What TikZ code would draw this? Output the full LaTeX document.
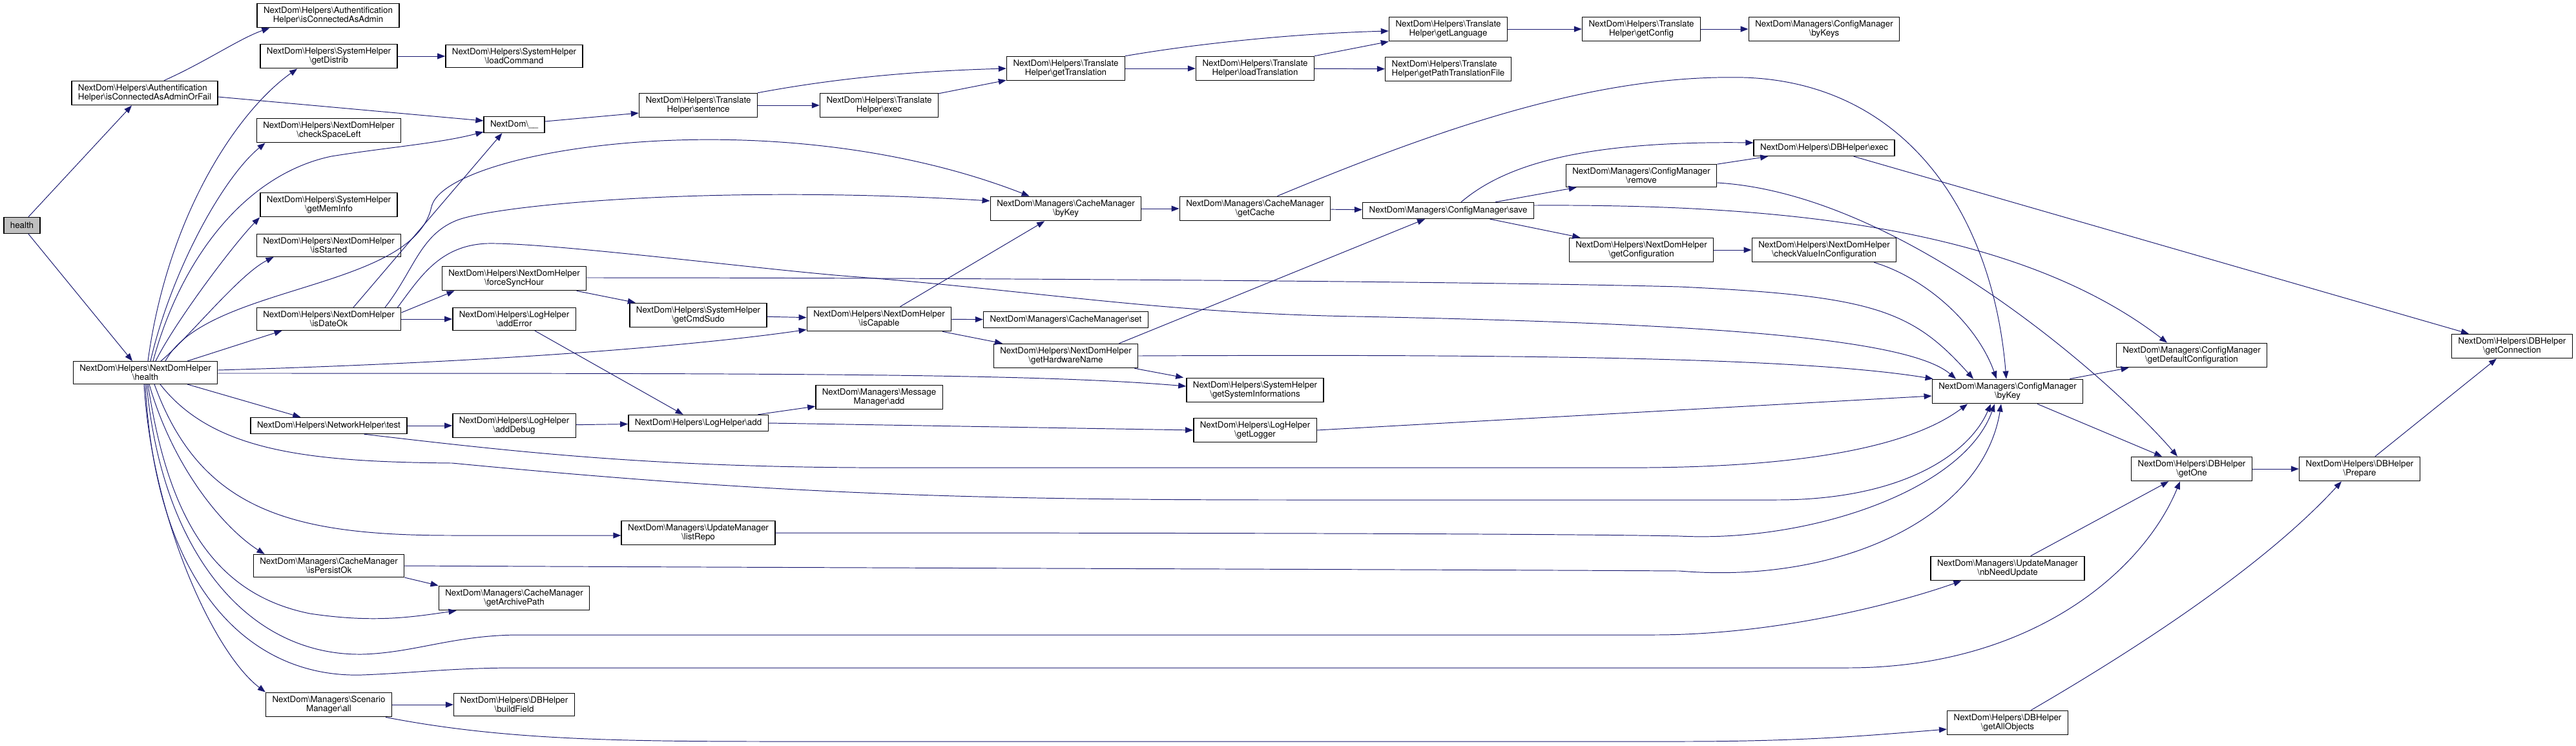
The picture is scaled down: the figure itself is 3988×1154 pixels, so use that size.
\documentclass[tikz,border=0pt]{standalone}
\usepackage{fontspec}
\setmainfont{TeX Gyre Heros}
\usetikzlibrary{arrows.meta, calc}

\newcommand{\bsl}{\textbackslash}
\definecolor{callblue}{HTML}{191970}
\definecolor{rootgray}{HTML}{BFBFBF}

\begin{document}
\begin{tikzpicture}[
      x=0.02cm, y=-0.02cm,
      fn/.style={rectangle, draw=black, line width=0.8pt, fill=white,
      font=\fontsize{7.6pt}{8pt}\selectfont, align=center,
      inner xsep=5.7pt, inner ysep=3pt, minimum height=0.5cm},
      root/.style={fn, fill=rootgray},
      call/.style={draw=callblue, line width=0.55pt,
      -{Triangle[length=0.24cm, width=0.18cm]}}
    ]
    \useasboundingbox (0,0) rectangle (3988,1154);

    % Callers
    \node[root] (health) at (34, 349) {health};
    \node[fn, align=left] (adminFail) at (224, 144) {NextDom\bsl Helpers\bsl Authentification\\Helper\bsl isConnectedAsAdminOrFail};
    \node[fn] (ndhHealth) at (225, 577) {NextDom\bsl Helpers\bsl NextDomHelper\\\bsl health};

    % Column 3
    \node[fn] (admin) at (508, 24) {NextDom\bsl Helpers\bsl Authentification\\Helper\bsl isConnectedAsAdmin};
    \node[fn] (getDistrib) at (509, 87) {NextDom\bsl Helpers\bsl SystemHelper\\\bsl getDistrib};
    \node[fn] (checkSpace) at (509, 202) {NextDom\bsl Helpers\bsl NextDomHelper\\\bsl checkSpaceLeft};
    \node[fn] (getMemInfo) at (509, 317) {NextDom\bsl Helpers\bsl SystemHelper\\\bsl getMemInfo};
    \node[fn] (isStarted) at (509, 380) {NextDom\bsl Helpers\bsl NextDomHelper\\\bsl isStarted};
    \node[fn] (isDateOk) at (509, 494) {NextDom\bsl Helpers\bsl NextDomHelper\\\bsl isDateOk};
    \node[fn] (netTest) at (509, 659) {NextDom\bsl Helpers\bsl NetworkHelper\bsl test};
    \node[fn] (isPersistOk) at (509, 876) {NextDom\bsl Managers\bsl CacheManager\\\bsl isPersistOk};
    \node[fn] (scenAll) at (509, 1091) {NextDom\bsl Managers\bsl Scenario\\Manager\bsl all};

    % Column 4
    \node[fn] (loadCommand) at (796, 87) {NextDom\bsl Helpers\bsl SystemHelper\\\bsl loadCommand};
    \node[fn] (trans) at (796, 193) {NextDom\bsl\_\_};
    \node[fn] (forceSync) at (796, 431) {NextDom\bsl Helpers\bsl NextDomHelper\\\bsl forceSyncHour};
    \node[fn] (addError) at (796, 494) {NextDom\bsl Helpers\bsl LogHelper\\\bsl addError};
    \node[fn] (addDebug) at (796, 659) {NextDom\bsl Helpers\bsl LogHelper\\\bsl addDebug};
    \node[fn] (archivePath) at (796, 926) {NextDom\bsl Managers\bsl CacheManager\\\bsl getArchivePath};
    \node[fn] (buildField) at (796, 1091) {NextDom\bsl Helpers\bsl DBHelper\\\bsl buildField};

    % Column 5
    \node[fn] (sentence) at (1081, 163) {NextDom\bsl Helpers\bsl Translate\\Helper\bsl sentence};
    \node[fn] (getCmdSudo) at (1081, 488) {NextDom\bsl Helpers\bsl SystemHelper\\\bsl getCmdSudo};
    \node[fn] (logAdd) at (1081, 655) {NextDom\bsl Helpers\bsl LogHelper\bsl add};
    \node[fn] (listRepo) at (1081, 825) {NextDom\bsl Managers\bsl UpdateManager\\\bsl listRepo};

    % Column 6
    \node[fn] (tExec) at (1361, 163) {NextDom\bsl Helpers\bsl Translate\\Helper\bsl exec};
    \node[fn] (isCapable) at (1361, 494) {NextDom\bsl Helpers\bsl NextDomHelper\\\bsl isCapable};
    \node[fn] (msgAdd) at (1361, 615) {NextDom\bsl Managers\bsl Message\\Manager\bsl add};

    % Column 7
    \node[fn] (getTranslation) at (1650, 106) {NextDom\bsl Helpers\bsl Translate\\Helper\bsl getTranslation};
    \node[fn] (cacheByKey) at (1650, 323) {NextDom\bsl Managers\bsl CacheManager\\\bsl byKey};
    \node[fn] (cacheSet) at (1650, 495) {NextDom\bsl Managers\bsl CacheManager\bsl set};
    \node[fn] (hwName) at (1650, 551) {NextDom\bsl Helpers\bsl NextDomHelper\\\bsl getHardwareName};

    % Column 8
    \node[fn] (loadTranslation) at (1943, 106) {NextDom\bsl Helpers\bsl Translate\\Helper\bsl loadTranslation};
    \node[fn] (getCache) at (1943, 323) {NextDom\bsl Managers\bsl CacheManager\\\bsl getCache};
    \node[fn] (sysInfo) at (1943, 604) {NextDom\bsl Helpers\bsl SystemHelper\\\bsl getSystemInformations};
    \node[fn] (getLogger) at (1943, 666) {NextDom\bsl Helpers\bsl LogHelper\\\bsl getLogger};

    % Column 9
    \node[fn] (getLanguage) at (2242, 45) {NextDom\bsl Helpers\bsl Translate\\Helper\bsl getLanguage};
    \node[fn, align=left] (pathFile) at (2242, 107) {NextDom\bsl Helpers\bsl Translate\\Helper\bsl getPathTranslationFile};
    \node[fn] (save) at (2242, 326) {NextDom\bsl Managers\bsl ConfigManager\bsl save};

    % Column 10
    \node[fn] (getConfig) at (2541, 45) {NextDom\bsl Helpers\bsl Translate\\Helper\bsl getConfig};
    \node[fn] (remove) at (2541, 272) {NextDom\bsl Managers\bsl ConfigManager\\\bsl remove};
    \node[fn] (getConfiguration) at (2541, 387) {NextDom\bsl Helpers\bsl NextDomHelper\\\bsl getConfiguration};

    % Column 11
    \node[fn] (byKeys) at (2824, 45) {NextDom\bsl Managers\bsl ConfigManager\\\bsl byKeys};
    \node[fn] (dbExec) at (2824, 229) {NextDom\bsl Helpers\bsl DBHelper\bsl exec};
    \node[fn] (checkValue) at (2824, 387) {NextDom\bsl Helpers\bsl NextDomHelper\\\bsl checkValueInConfiguration};

    % Column 12
    \node[fn] (cfgByKey) at (3108, 606) {NextDom\bsl Managers\bsl ConfigManager\\\bsl byKey};
    \node[fn] (nbNeed) at (3108, 880) {NextDom\bsl Managers\bsl UpdateManager\\\bsl nbNeedUpdate};
    \node[fn] (getAllObjects) at (3108, 1119) {NextDom\bsl Helpers\bsl DBHelper\\\bsl getAllObjects};

    % DB end
    \node[fn] (defaultConf) at (3393, 550) {NextDom\bsl Managers\bsl ConfigManager\\\bsl getDefaultConfiguration};
    \node[fn] (getOne) at (3393, 726) {NextDom\bsl Helpers\bsl DBHelper\\\bsl getOne};
    \node[fn] (prepare) at (3653, 726) {NextDom\bsl Helpers\bsl DBHelper\\\bsl Prepare};
    \node[fn] (getConnection) at (3889, 536) {NextDom\bsl Helpers\bsl DBHelper\\\bsl getConnection};

    % health
    \draw[call] ($(health.north)+(10,0)$) -- ($(adminFail.south)+(-20,0)$);
    \draw[call] ($(health.south)+(10,0)$) -- ($(ndhHealth.north)+(-20,0)$);
    \draw[call] ($(adminFail.north)+(30,0)$) .. controls (320,95) and (370,60) .. ($(admin.south west)+(20,0)$);
    \draw[call] ($(adminFail.east)+(0,6)$) -- ($(trans.west)+(0,-6)$);

    % NextDomHelper health, upwards
    \draw[call] ($(ndhHealth.north)+(4,0)$) .. controls (260,330) and (370,170) .. ($(getDistrib.south west)+(58,0)$);
    \draw[call] ($(ndhHealth.north)+(8,0)$) .. controls (265,420) and (345,275) .. ($(checkSpace.south west)+(14,0)$);
    \draw[call] ($(ndhHealth.north)+(12,0)$) .. controls (280,400) and (380,270) .. (513,242) .. controls (600,228) and (680,222) .. ($(trans.south west)+(0,-2)$);
    \draw[call] ($(ndhHealth.north)+(16,0)$) .. controls (270,500) and (360,380) .. (getMemInfo.south west);
    \draw[call] ($(ndhHealth.north)+(24,0)$) .. controls (290,525) and (370,425) .. ($(isStarted.south west)+(27,0)$);
    \draw[call] ($(ndhHealth.north)+(31,0)$) .. controls (320,440) and (640,450) .. (668,320) .. controls (690,230) and (1200,150) .. ($(cacheByKey.north west)+(61,0)$);
    \draw[call] ($(ndhHealth.north)+(65,0)$) -- ($(isDateOk.south west)+(40,0)$);
    \draw[call] ($(ndhHealth.east)+(0,-4)$) .. controls (800,560) and (1100,532) .. ($(isCapable.south west)+(0,-3)$);
    \draw[call] ($(ndhHealth.east)+(0,1)$) .. controls (1200,578) and (1600,578) .. ($(sysInfo.west)+(0,-6)$);

    % NextDomHelper health, downwards
    \draw[call] ($(ndhHealth.south)+(65,0)$) -- ($(netTest.north west)+(78,0)$);
    \draw[call] ($(ndhHealth.south)+(23,0)$) .. controls (330,700) and (480,715) .. (700,717) .. controls (1200,765) and (1500,774) .. (2000,774) -- (2750,774) .. controls (2950,774) and (3050,700) .. ($(cfgByKey.south)+(-26,0)$);
    \draw[call] ($(ndhHealth.south)+(14,0)$) .. controls (310,790) and (450,829) .. (700,829) -- ($(listRepo.west)+(0,4)$);
    \draw[call] ($(ndhHealth.south)+(6,0)$) .. controls (270,730) and (350,820) .. ($(isPersistOk.north west)+(18,0)$);
    \draw[call] ($(ndhHealth.south)+(4,0)$) .. controls (260,800) and (330,920) .. (480,950) .. controls (580,965) and (640,955) .. ($(archivePath.south west)+(28,0)$);
    \draw[call] ($(ndhHealth.south)+(2,0)$) .. controls (250,850) and (380,1015) .. (560,1013) .. controls (640,1011) and (700,984) .. (800,983) -- (2560,983) .. controls (2760,983) and (2950,930) .. ($(nbNeed.south west)+(48,0)$);
    \draw[call] (ndhHealth.south) .. controls (240,900) and (380,1050) .. (560,1045) .. controls (640,1042) and (700,1034) .. (800,1034) -- (2860,1034) .. controls (3150,1034) and (3320,880) .. ($(getOne.south west)+(76,0)$);
    \draw[call] ($(ndhHealth.south)+(-2,0)$) .. controls (235,800) and (330,1010) .. (scenAll.north west);

    % isDateOk
    \draw[call] ($(isDateOk.north)+(38,0)$) -- ($(trans.south west)+(29,0)$);
    \draw[call] ($(isDateOk.north)+(87,0)$) .. controls (640,420) and (650,365) .. (705,342) .. controls (760,318) and (1100,285) .. ($(cacheByKey.west)+(0,-12)$);
    \draw[call] ($(isDateOk.north east)+(-6,0)$) .. controls (650,430) and (680,380) .. (754,377) .. controls (850,375) and (1200,420) .. (1330,429) .. controls (1600,450) and (1800,485) .. (2100,490) .. controls (2600,500) and (2950,520) .. ($(cfgByKey.north)+(-80,0)$);
    \draw[call] ($(isDateOk.east)+(0,-10)$) -- ($(forceSync.south west)+(20,0)$);
    \draw[call] (isDateOk.east) -- (addError.west);

    % translation
    \draw[call] (getDistrib) -- (loadCommand);
    \draw[call] ($(trans.east)+(0,-5)$) -- ($(sentence.west)+(0,12)$);
    \draw[call] (sentence) -- (tExec);
    \draw[call] (sentence.north east) .. controls (1300,120) and (1420,110) .. (getTranslation.west);
    \draw[call] (tExec) -- (getTranslation);
    \draw[call] (getTranslation) -- (loadTranslation);
    \draw[call] (getTranslation.north east) .. controls (1850,68) and (2000,52) .. ($(getLanguage.west)+(0,3)$);
    \draw[call] (loadTranslation.north east) -- (getLanguage.south west);
    \draw[call] (loadTranslation) -- (pathFile);
    \draw[call] (getLanguage) -- (getConfig);
    \draw[call] (getConfig) -- (byKeys);

    % cache and config
    \draw[call] (cacheByKey) -- (getCache);
    \draw[call] (getCache) -- (save);
    \draw[call] ($(getCache.north east)+(-83,0)$) .. controls (2250,190) and (2480,115) .. (2700,120) .. controls (2950,128) and (3085,330) .. ($(cfgByKey.north)+(-2,0)$);
    \draw[call] (save) -- (remove);
    \draw[call] ($(save.north)+(20,0)$) .. controls (2330,255) and (2450,218) .. ($(dbExec.west)+(0,-8)$);
    \draw[call] (save) -- (getConfiguration);
    \draw[call] ($(save.east)+(0,-8)$) .. controls (2750,316) and (3120,350) .. ($(defaultConf.north)+(-38,0)$);
    \draw[call] (remove) -- (dbExec);
    \draw[call] ($(remove.east)+(0,11)$) .. controls (2950,300) and (3280,600) .. ($(getOne.north west)+(72,0)$);
    \draw[call] (getConfiguration) -- (checkValue);
    \draw[call] ($(checkValue.south east)+(-35,0)$) .. controls (2980,430) and (3060,500) .. ($(cfgByKey.north)+(-17,0)$);
    \draw[call] (dbExec) -- (getConnection);
    \draw[call] ($(cfgByKey.north east)+(-21,0)$) -- ($(defaultConf.south west)+(20,0)$);
    \draw[call] (cfgByKey) -- (getOne);
    \draw[call] (getOne) -- (prepare);
    \draw[call] (prepare) -- (getConnection);
    \draw[call] (nbNeed) -- (getOne);
    \draw[call] ($(getAllObjects.north)+(36,0)$) .. controls (3350,980) and (3520,860) .. ($(prepare.south)+(-28,0)$);

    % lower callers
    \draw[call] (scenAll) -- (buildField);
    \draw[call] ($(scenAll.south east)+(-10,0)$) .. controls (800,1150) and (1000,1148) .. (1300,1148) -- (2600,1148) .. controls (2800,1148) and (2900,1138) .. ($(getAllObjects.west)+(0,10)$);
    \draw[call] (isPersistOk.south east) -- (archivePath.north west);
    \draw[call] (isPersistOk.east) .. controls (1500,880) and (2300,882) .. (2600,884) .. controls (2850,905) and (3070,800) .. ($(cfgByKey.south)+(-10,0)$);
    \draw[call] (listRepo.east) .. controls (1800,825) and (2400,826) .. (2600,830) .. controls (2800,840) and (3040,760) .. ($(cfgByKey.south)+(-20,0)$);
    \draw[call] (netTest) -- (addDebug);
    \draw[call] ($(netTest.south east)+(-67,0)$) .. controls (800,700) and (1000,722) .. (1330,724) -- (2550,724) .. controls (2800,722) and (2960,690) .. ($(cfgByKey.south)+(-62,0)$);

    % logging
    \draw[call] (addDebug) -- (logAdd);
    \draw[call] (addError) -- (logAdd);
    \draw[call] (logAdd) -- (msgAdd);
    \draw[call] (logAdd.east) -- (getLogger.west);
    \draw[call] (getLogger.east) -- ($(cfgByKey.west)+(0,7)$);

    % capabilities
    \draw[call] (forceSync) -- (getCmdSudo);
    \draw[call] ($(forceSync.east)+(0,-1)$) .. controls (1500,430) and (2300,436) .. (2600,444) .. controls (2900,458) and (2960,480) .. ($(cfgByKey.north)+(-53,0)$);
    \draw[call] (getCmdSudo) -- (isCapable);
    \draw[call] (isCapable) -- (cacheByKey);
    \draw[call] (isCapable) -- (cacheSet);
    \draw[call] (isCapable) -- (hwName);
    \draw[call] ($(hwName.north east)+(-30,0)$) -- ($(save.south)+(-36,0)$);
    \draw[call] (hwName.east) .. controls (2400,548) and (2800,555) .. ($(cfgByKey.north west)+(2,0)$);
    \draw[call] ($(hwName.south east)+(-6,0)$) -- ($(sysInfo.north west)+(-4,0)$);

  \end{tikzpicture}
\end{document}
